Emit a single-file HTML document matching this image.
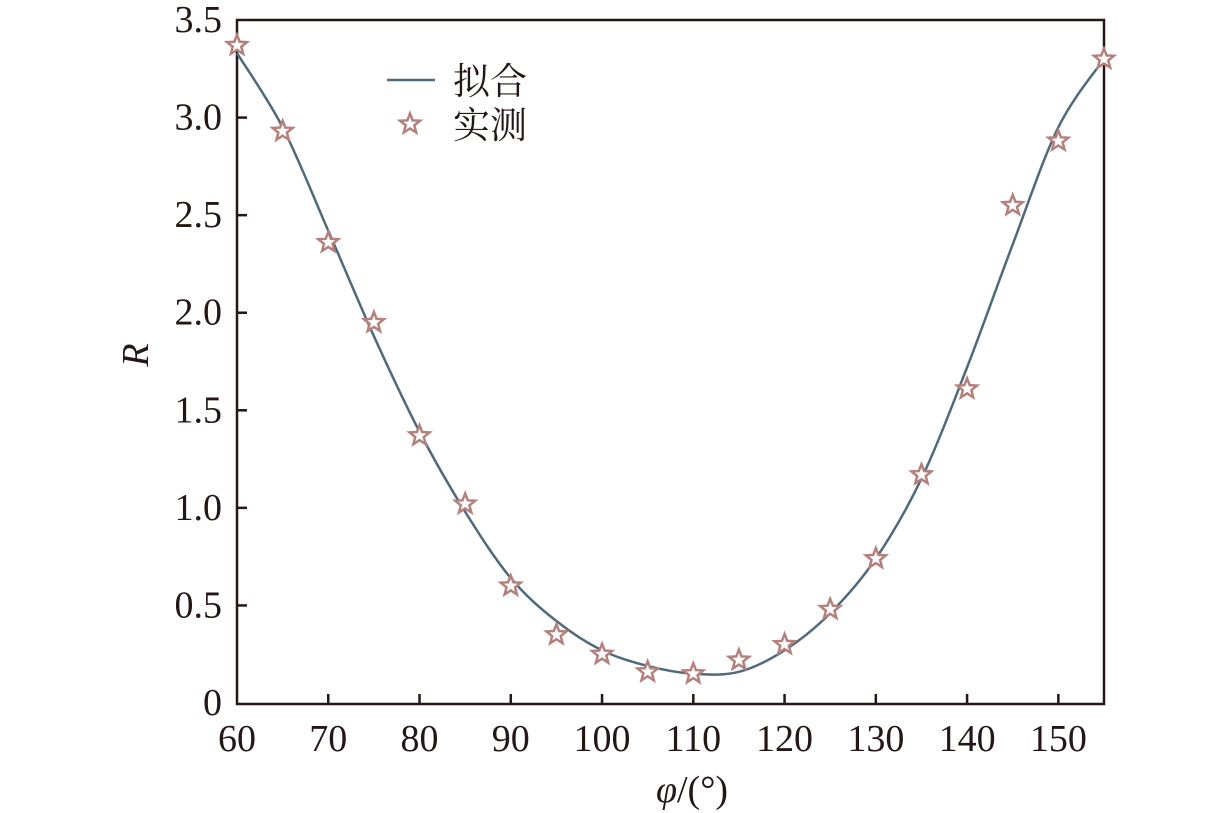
<!DOCTYPE html>
<html><head><meta charset="utf-8"><style>body{margin:0;background:#fff}svg{display:block}</style></head>
<body>
<svg id="s" width="1228" height="813" xmlns="http://www.w3.org/2000/svg" font-family="'Liberation Serif',serif" font-size="38" fill="#231815">
<rect x="237" y="20" width="867" height="684" fill="none" stroke="#231815" stroke-width="2.5"/>
<g id="ticks" stroke="#231815" stroke-width="2.5"></g>
<g id="labels"></g>
<path id="curve" fill="none" stroke="#4e6a7c" stroke-width="2.5"/>
<g id="stars"></g>
<text x="148" y="355" font-style="italic" text-anchor="middle" transform="rotate(-90 148 355)">R</text>
<text x="692" y="802" text-anchor="middle"><tspan font-style="italic">φ</tspan>/(°)</text>
<line x1="387" y1="80" x2="435" y2="80" stroke="#4e6a7c" stroke-width="2.5"/>
<text x="453" y="94" font-family="'Noto Serif CJK SC',serif" font-size="37">拟合</text>
<text x="453" y="138" font-family="'Noto Serif CJK SC',serif" font-size="37">实测</text>
</svg>
<script>
var X=v=>237+(v-60)*9.126, Y=r=>703-r*195.14, ns="http://www.w3.org/2000/svg";
function el(p,t,a,txt){var e=document.createElementNS(ns,t);for(var k in a)e.setAttribute(k,a[k]);if(txt!=null)e.textContent=txt;document.getElementById(p).appendChild(e);return e;}
for(var v=70;v<=150;v+=10){el("ticks","line",{x1:X(v),x2:X(v),y1:704,y2:694});}
for(var v=60;v<=150;v+=10){el("labels","text",{x:X(v),y:751,"text-anchor":"middle"},v);}
for(var r=0.5;r<3.5;r+=0.5){el("ticks","line",{x1:237,x2:247,y1:Y(r),y2:Y(r)});}
["0","0.5","1.0","1.5","2.0","2.5","3.0","3.5"].forEach((s,i)=>el("labels","text",{x:222,y:Y(i*0.5)+12,"text-anchor":"end"},s));
var cv=[3.33,2.95,2.42,1.88,1.39,0.98,0.64,0.42,0.27,0.19,0.15,0.16,0.27,0.46,0.74,1.15,1.72,2.35,2.95,3.30];
var pts=cv.map((r,i)=>[X(60+5*i),Y(r)]);
var d="M"+pts[0];
for(var i=0;i<pts.length-1;i++){var p0=pts[Math.max(0,i-1)],p1=pts[i],p2=pts[i+1],p3=pts[Math.min(pts.length-1,i+2)];
d+=" C"+(p1[0]+(p2[0]-p0[0])/6)+","+(p1[1]+(p2[1]-p0[1])/6)+" "+(p2[0]-(p3[0]-p1[0])/6)+","+(p2[1]-(p3[1]-p1[1])/6)+" "+p2[0]+","+p2[1];}
document.getElementById("curve").setAttribute("d",d);
var mv=[3.37,2.93,2.36,1.95,1.37,1.02,0.60,0.35,0.25,0.16,0.15,0.22,0.30,0.48,0.74,1.17,1.61,2.55,2.88,3.30];
function star(cx,cy){var s="";for(var k=0;k<10;k++){var a=-Math.PI/2+k*Math.PI/5,rr=k%2?4.5:10.5;s+=(cx+rr*Math.cos(a))+","+(cy+rr*Math.sin(a))+" ";}
el("stars","polygon",{points:s,fill:"#fff",stroke:"#b5817d","stroke-width":2.5,"stroke-linejoin":"miter"});}
mv.forEach((r,i)=>star(X(60+5*i),Y(r)));
star(410,124);
</script>
</body></html>
